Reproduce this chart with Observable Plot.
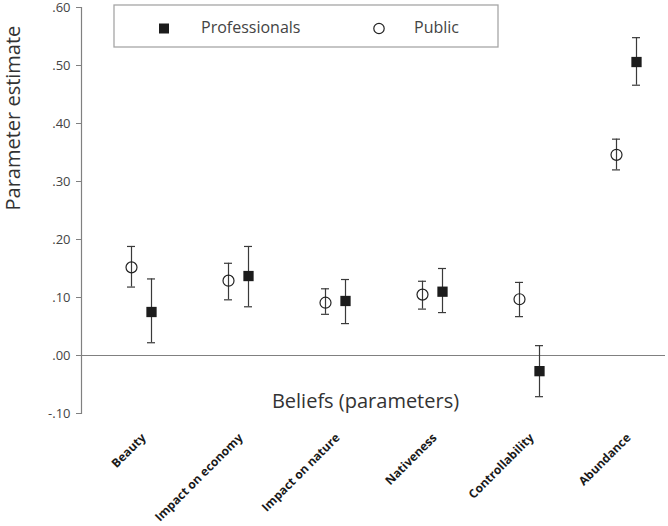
<!DOCTYPE html>
<html><head><meta charset="utf-8">
<script src="https://cdn.jsdelivr.net/npm/d3@7"></script>
<script src="https://cdn.jsdelivr.net/npm/@observablehq/plot@0.6"></script>
<style>body{margin:0;background:#fff} svg{display:block}</style>
</head><body><div id="chart"></div>
<script>
const categories = ["Beauty", "Impact on economy", "Impact on nature", "Nativeness", "Controllability", "Abundance"];
const publicEst  = [0.152, 0.129, 0.091, 0.105, 0.097, 0.346];
const publicLow  = [0.118, 0.096, 0.071, 0.080, 0.067, 0.320];
const publicHigh = [0.188, 0.159, 0.115, 0.128, 0.126, 0.373];
const profEst    = [0.075, 0.137, 0.094, 0.110, -0.027, 0.506];
const profLow    = [0.022, 0.084, 0.055, 0.074, -0.071, 0.466];
const profHigh   = [0.132, 0.188, 0.131, 0.150, 0.017, 0.548];
const yTicks = [-0.10, 0.00, 0.10, 0.20, 0.30, 0.40, 0.50, 0.60];
const seriesNames = ["Professionals", "Public"];
const xTitle = "Beliefs (parameters)";
const yTitle = "Parameter estimate";

const pub = categories.map((c, i) => ({cat: c, est: publicEst[i], lo: publicLow[i], hi: publicHigh[i]}));
const pro = categories.map((c, i) => ({cat: c, est: profEst[i], lo: profLow[i], hi: profHigh[i]}));
const fmt = d => d.toFixed(2).replace("0.", ".");
const barColor = "#3a3a3a";

function errorBars(data, dx) {
  const common = {stroke: barColor, strokeWidth: 1.2, dx};
  return [
    Plot.ruleX(data, {x: "cat", y1: "lo", y2: "hi", ...common}),
    Plot.ruleY(data, {x1: "cat", x2: "cat", y: "lo", insetLeft: -4, insetRight: -4, ...common}),
    Plot.ruleY(data, {x1: "cat", x2: "cat", y: "hi", insetLeft: -4, insetRight: -4, ...common})
  ];
}

const chart = Plot.plot({
  width: 668,
  height: 526,
  marginLeft: 81,
  marginRight: 3,
  marginTop: 7,
  marginBottom: 113,
  style: {fontFamily: "'Open Sans', sans-serif", fontSize: "13px", color: "#444", background: "#fff"},
  x: {type: "point", domain: categories, range: [140.5, 625.5], padding: 0, axis: null},
  y: {domain: [-0.1, 0.6], axis: null},
  marks: [
    Plot.ruleY([0], {stroke: "#808080", strokeWidth: 1.2}),
    Plot.frame({anchor: "left", stroke: "#808080", strokeWidth: 1.2}),
    Plot.axisY({ticks: yTicks, tickFormat: fmt, tickSize: 5, tickPadding: 6, stroke: "#808080", fill: "#444", fontSize: 13}),
    ...errorBars(pub, -10),
    ...errorBars(pro, 10),
    Plot.dot(pub, {x: "cat", y: "est", dx: -10, r: 5.5, symbol: "circle", fill: "none", stroke: "#222", strokeWidth: 1.2}),
    Plot.dot(pro, {x: "cat", y: "est", dx: 10, r: 5.8, symbol: "square", fill: "#1c1c1c", stroke: "none"}),
    Plot.text(categories, {x: d => d, frameAnchor: "bottom", dx: 5, dy: 25, rotate: -45, textAnchor: "end", fontWeight: "bold", fontSize: 12, fill: "#1a1a1a"}),
    Plot.text([xTitle], {frameAnchor: "bottom", dx: -8, dy: -6, fontSize: 20, fill: "#333"}),
    Plot.text([yTitle], {frameAnchor: "left", dx: -68, dy: 0, rotate: -90, fontSize: 20, fill: "#333"})
  ]
});

document.getElementById("chart").appendChild(chart);

const svg = d3.select(chart);
const lg = svg.append("g").attr("font-family", "'Open Sans', sans-serif").attr("text-anchor", "start");
lg.append("rect").attr("x", 114).attr("y", 5).attr("width", 384).attr("height", 42)
  .attr("fill", "#fff").attr("stroke", "#a6a6a6").attr("stroke-width", 1.3);
lg.append("rect").attr("x", 159).attr("y", 23.5).attr("width", 10).attr("height", 10).attr("fill", "#1c1c1c");
lg.append("text").attr("x", 201).attr("y", 27.5).attr("dy", "0.35em").attr("font-size", 16).attr("fill", "#444").text(seriesNames[0]);
lg.append("circle").attr("cx", 379).attr("cy", 28.5).attr("r", 5.2).attr("fill", "none").attr("stroke", "#222").attr("stroke-width", 1.2);
lg.append("text").attr("x", 414).attr("y", 27.5).attr("dy", "0.35em").attr("font-size", 16).attr("fill", "#444").text(seriesNames[1]);
</script>
</body></html>
